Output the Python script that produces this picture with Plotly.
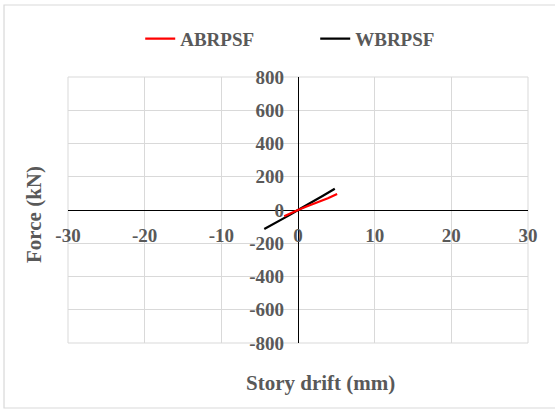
import plotly.graph_objects as go

# Load–displacement response of the two frames
abrpsf_drift = [-1.8, -0.8, 0.0, 1.2, 2.6, 3.9, 5.1]
abrpsf_force = [-38, -16, 0, 22, 46, 70, 96]

wbrpsf_drift = [-4.4, -2.5, -1.0, 0.0, 1.5, 3.2, 4.8]
wbrpsf_force = [-114, -68, -28, 0, 38, 84, 128]

x_ticks = [-30, -20, -10, 0, 10, 20, 30]
y_ticks = [-800, -600, -400, -200, 0, 200, 400, 600, 800]

FONT = "Liberation Serif, Times New Roman, serif"
GRAY = "#595959"
GRID = "#d9d9d9"

fig = go.Figure()
fig.add_trace(go.Scatter(x=wbrpsf_drift, y=wbrpsf_force, mode="lines",
                         name="WBRPSF", line=dict(color="#000000", width=2.2)))
fig.add_trace(go.Scatter(x=abrpsf_drift, y=abrpsf_force, mode="lines",
                         name="ABRPSF", line=dict(color="#ff0000", width=2.2)))

tick_font = dict(family=FONT, size=19, color=GRAY, weight="bold")

fig.update_layout(
    width=555, height=410,
    margin=dict(l=68, r=27, t=77, b=67),
    paper_bgcolor="white", plot_bgcolor="white",
    font=dict(family=FONT, color=GRAY, size=19),
    showlegend=True,
    legend=dict(orientation="h", x=0.157, y=1.215, xanchor="left", yanchor="top",
                traceorder="reversed",
                font=dict(family=FONT, size=19, color=GRAY, weight="bold"),
                entrywidth=130, itemwidth=30, bgcolor="rgba(0,0,0,0)"),
    xaxis=dict(range=[-30, 30], tickvals=x_ticks, ticktext=[str(v) for v in x_ticks],
               showgrid=True, gridcolor=GRID, gridwidth=1,
               zeroline=True, zerolinecolor="#000000", zerolinewidth=1.4,
               anchor="free", position=0.5, ticks="", ticklabelstandoff=12,
               tickfont=tick_font, showline=False, fixedrange=True),
    yaxis=dict(range=[-800, 800], tickvals=y_ticks, ticktext=[str(v) for v in y_ticks],
               showgrid=True, gridcolor=GRID, gridwidth=1,
               zeroline=True, zerolinecolor="#000000", zerolinewidth=1.4,
               anchor="free", position=0.5, ticks="", ticklabelstandoff=14,
               tickfont=tick_font, showline=False, fixedrange=True),
    shapes=[
        # plot-area frame
        dict(type="rect", xref="paper", yref="paper", x0=0, x1=1, y0=0, y1=1,
             line=dict(color=GRID, width=1), layer="below"),
        # chart frame
        dict(type="rect", xref="paper", yref="paper",
             x0=-0.1391, x1=1.066, y0=-0.2444, y1=1.2707,
             line=dict(color=GRID, width=1.2)),
    ],
    annotations=[
        dict(text="Force (kN)", xref="paper", yref="paper",
             x=(34 - 68) / 460, y=(343 - 215) / 266, showarrow=False, textangle=-90,
             xanchor="center", yanchor="middle",
             font=dict(family=FONT, size=21, color=GRAY, weight="bold")),
        dict(text="Story drift (mm)", xref="paper", yref="paper",
             x=(320 - 68) / 460, y=(343 - 383) / 266, showarrow=False,
             xanchor="center", yanchor="middle",
             font=dict(family=FONT, size=21, color=GRAY, weight="bold")),
    ],
)

fig.write_html("out.html")
